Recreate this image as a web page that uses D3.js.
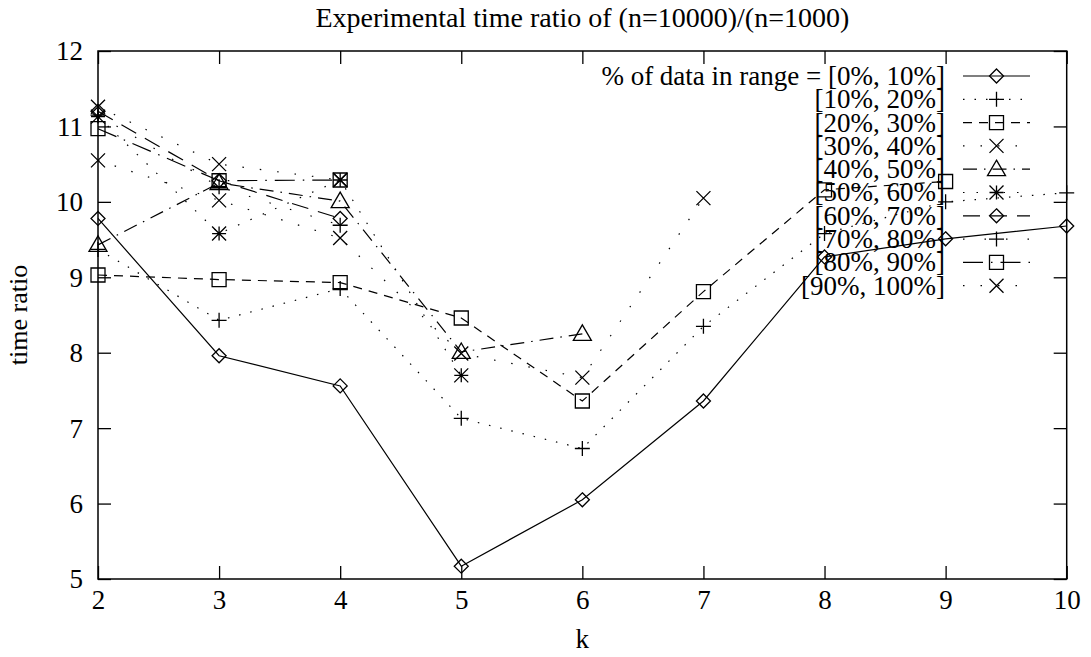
<!DOCTYPE html>
<html>
<head>
<meta charset="utf-8">
<script src="https://cdn.jsdelivr.net/npm/d3@7/dist/d3.min.js"></script>
<style>
  html, body { margin: 0; padding: 0; background: #fff; }
  svg { display: block; }
  text { font-family: "Liberation Serif", "Times New Roman", serif; fill: #000; }
</style>
</head>
<body>
<svg id="chart" width="1091" height="657"></svg>
<script>
// k values on the x axis
const ks = [2, 3, 4, 5, 6, 7, 8, 9, 10];

// Time ratio per range of data, indexed by k starting at 2
const r0_10   = [9.78, 7.96, 7.56, 5.17, 6.05, 7.36, 9.27, 9.51, 9.68];
const r10_20  = [9.37, 8.43, 8.85, 7.13, 6.73, 8.35, 9.58, 10.00, 10.12];
const r20_30  = [9.03, 8.97, 8.93, 8.46, 7.36, 8.81, 10.16, 10.27];
const r30_40  = [10.55, 10.02, 9.52, 7.99, 7.67, 10.05];
const r40_50  = [9.43, 10.25, 10.01, 8.01, 8.25];
const r50_60  = [11.13, 9.58, 10.29, 7.70];
const r60_70  = [11.20, 10.28, 9.78];
const r70_80  = [11.15, 10.20, 9.69];
const r80_90  = [10.97, 10.28, 10.29];
const r90_100 = [11.26, 10.50, 10.29];

const seriesValues = [r0_10, r10_20, r20_30, r30_40, r40_50, r50_60, r60_70, r70_80, r80_90, r90_100];
const seriesLabels = ["% of data in range = [0%, 10%]", "[10%, 20%]", "[20%, 30%]", "[30%, 40%]",
  "[40%, 50%]", "[50%, 60%]", "[60%, 70%]", "[70%, 80%]", "[80%, 90%]", "[90%, 100%]"];

const xTicks = [2, 3, 4, 5, 6, 7, 8, 9, 10];
const yTicks = [5, 6, 7, 8, 9, 10, 11, 12];

const titleText = "Experimental time ratio of (n=10000)/(n=1000)";
const xLabel = "k";
const yLabel = "time ratio";

// line dash patterns and point symbols, one per series
const dashes = ["", "1.5,10", "9,7", "1.5,16", "14,7,1.5,7", "1.5,12", "17,10", "1.5,20", "20,8,1.5,8", "1.5,16"];
const symbols = ["diamond", "plus", "square", "cross", "triangle", "star", "diamond", "plus", "square", "cross"];

const svg = d3.select("#chart");
const padL = 98, padR = 1066.7, padT = 51, padB = 579;
const x = d3.scaleLinear().domain([2, 10]).range([padL, padR]);
const y = d3.scaleLinear().domain([5, 12]).range([padB, padT]);
const FS = 27;

function symbolPath(type) {
  const p = d3.path();
  if (type === "diamond") {
    const s = 7; p.moveTo(0, -s); p.lineTo(s, 0); p.lineTo(0, s); p.lineTo(-s, 0); p.closePath();
  } else if (type === "plus") {
    const s = 7.5; p.moveTo(-s, 0); p.lineTo(s, 0); p.moveTo(0, -s); p.lineTo(0, s);
  } else if (type === "square") {
    const s = 7; p.rect(-s, -s, 2 * s, 2 * s);
  } else if (type === "cross") {
    const s = 7; p.moveTo(-s, -s); p.lineTo(s, s); p.moveTo(-s, s); p.lineTo(s, -s);
  } else if (type === "triangle") {
    const s = 9; p.moveTo(0, -s); p.lineTo(s, s * 0.72); p.lineTo(-s, s * 0.72); p.closePath();
  } else if (type === "star") {
    const s = 7; p.moveTo(-s, 0); p.lineTo(s, 0); p.moveTo(0, -s); p.lineTo(0, s);
    p.moveTo(-s, -s); p.lineTo(s, s); p.moveTo(-s, s); p.lineTo(s, -s);
  }
  return p.toString();
}

// axes with inward ticks on all four sides
const axB = svg.append("g").attr("transform", `translate(0,${padB})`)
  .call(d3.axisBottom(x).tickValues(xTicks).tickSizeInner(-13).tickSizeOuter(0).tickPadding(7).tickFormat(d3.format("d")));
const axT = svg.append("g").attr("transform", `translate(0,${padT})`)
  .call(d3.axisTop(x).tickValues(xTicks).tickSizeInner(-13).tickSizeOuter(0).tickFormat(""));
const axL = svg.append("g").attr("transform", `translate(${padL},0)`)
  .call(d3.axisLeft(y).tickValues(yTicks).tickSizeInner(-13).tickSizeOuter(0).tickPadding(15).tickFormat(d3.format("d")));
const axR = svg.append("g").attr("transform", `translate(${padR},0)`)
  .call(d3.axisRight(y).tickValues(yTicks).tickSizeInner(-13).tickSizeOuter(0).tickFormat(""));
[axB, axT, axL, axR].forEach(g => {
  g.select(".domain").remove();
  g.selectAll(".tick line").attr("stroke", "#000").attr("stroke-width", 1.3);
  g.selectAll(".tick text").style("font-family", '"Liberation Serif", serif').style("font-size", FS + "px").attr("fill", "#000");
});
axB.selectAll(".tick text").attr("dy", "0.85em");
axL.selectAll(".tick text").attr("dy", "0.33em");

svg.append("rect").attr("x", padL).attr("y", padT).attr("width", padR - padL).attr("height", padB - padT)
  .attr("fill", "none").attr("stroke", "#000").attr("stroke-width", 1.5);

// titles
svg.append("text").attr("x", (padL + padR) / 2).attr("y", 27).attr("text-anchor", "middle")
  .style("font-size", "28px").text(titleText);
svg.append("text").attr("x", (padL + padR) / 2).attr("y", 648).attr("text-anchor", "middle")
  .style("font-size", FS + "px").text(xLabel);
svg.append("text").attr("transform", `translate(27,${(padT + padB) / 2}) rotate(-90)`).attr("text-anchor", "middle")
  .style("font-size", "26px").text(yLabel);

// data lines and points
const line = d3.line().x(d => x(d.k)).y(d => y(d.v));
const plot = svg.append("g");
seriesValues.forEach((vals, i) => {
  const pts = vals.map((v, j) => ({ k: ks[j], v }));
  plot.append("path").datum(pts).attr("d", line).attr("fill", "none").attr("stroke", "#000")
    .attr("stroke-width", 1.2).attr("stroke-dasharray", dashes[i] || null);
  plot.selectAll(null).data(pts).enter().append("path")
    .attr("transform", d => `translate(${x(d.k)},${y(d.v)})`)
    .attr("d", symbolPath(symbols[i])).attr("fill", "none").attr("stroke", "#000").attr("stroke-width", 1.3);
});

// legend
const legend = svg.append("g");
const lx0 = 963, lx1 = 1030, lxText = 945, ly0 = 76, lStep = 23.3;
seriesLabels.forEach((lab, i) => {
  const yy = ly0 + i * lStep;
  legend.append("text").attr("x", lxText).attr("y", yy).attr("dy", "0.33em").attr("text-anchor", "end")
    .style("font-size", FS + "px").text(lab);
  legend.append("line").attr("x1", lx0).attr("x2", lx1).attr("y1", yy).attr("y2", yy)
    .attr("stroke", "#000").attr("stroke-width", 1.2).attr("stroke-dasharray", dashes[i] || null);
  legend.append("path").attr("transform", `translate(${(lx0 + lx1) / 2},${yy})`)
    .attr("d", symbolPath(symbols[i])).attr("fill", "none").attr("stroke", "#000").attr("stroke-width", 1.3);
});
</script>
</body>
</html>
